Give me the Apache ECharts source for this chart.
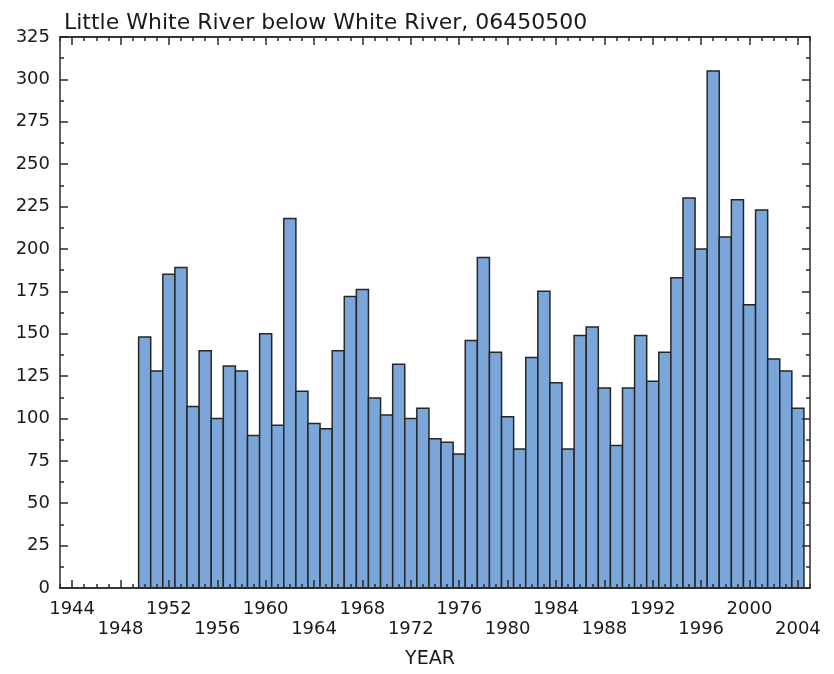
<!DOCTYPE html>
<html>
<head>
<meta charset="utf-8">
<script src="https://cdn.jsdelivr.net/npm/echarts@6/dist/echarts.min.js"></script>
<style>
  html, body { margin: 0; padding: 0; background: #fff; }
  #chart { width: 834px; height: 674px; }
</style>
</head>
<body>
<div id="chart"></div>
<script>
// Annual values, Little White River below White River (06450500)
const years = [
  1950, 1951, 1952, 1953, 1954, 1955, 1956, 1957, 1958, 1959,
  1960, 1961, 1962, 1963, 1964, 1965, 1966, 1967, 1968, 1969,
  1970, 1971, 1972, 1973, 1974, 1975, 1976, 1977, 1978, 1979,
  1980, 1981, 1982, 1983, 1984, 1985, 1986, 1987, 1988, 1989,
  1990, 1991, 1992, 1993, 1994, 1995, 1996, 1997, 1998, 1999,
  2000, 2001, 2002, 2003, 2004
];
const values = [
  148, 128, 185, 189, 107, 140, 100, 131, 128, 90,
  150, 96, 218, 116, 97, 94, 140, 172, 176, 112,
  102, 132, 100, 106, 88, 86, 79, 146, 195, 139,
  101, 82, 136, 175, 121, 82, 149, 154, 118, 84,
  118, 149, 122, 139, 183, 230, 200, 305, 207, 229,
  167, 223, 135, 128, 106
];
// Labelled year ticks (every 4 years)
const majorYears = [1944, 1948, 1952, 1956, 1960, 1964, 1968, 1972, 1976,
  1980, 1984, 1988, 1992, 1996, 2000, 2004];

const yearMin = 1943, yearMax = 2005;
const yMax = 325, yStep = 25;

// one minor tick per year
const allYears = [];
for (let y = yearMin; y <= yearMax; y++) allYears.push(y);

const ink = '#1a1a1a';
const axisColor = '#2b2b2b';
const font = 'DejaVu Sans';
const barFill = '#7ba6da';
const barEdge = '#262626';

function yearAxis(position, ticks, len, withLabels) {
  return {
    type: 'value', gridIndex: 0, position: position, z: 5,
    min: yearMin, max: yearMax,
    axisLine: { show: true, onZero: false, lineStyle: { color: axisColor, width: 1.5 } },
    axisTick: { show: true, inside: true, length: len, customValues: ticks,
      lineStyle: { color: axisColor, width: 1.5 } },
    axisLabel: withLabels ? {
      show: true, customValues: majorYears, color: ink, fontFamily: font, fontSize: 18,
      lineHeight: 20, margin: 11,
      formatter: function (v) { return ((v - 1944) % 8 === 4) ? '\n' + v : String(v); }
    } : { show: false },
    splitLine: { show: false },
    name: withLabels ? 'YEAR' : '',
    nameLocation: 'middle', nameGap: 62,
    nameTextStyle: { color: ink, fontFamily: font, fontSize: 19, padding: [0, 10, 0, 0] }
  };
}

function valueAxis(position, withLabels) {
  return {
    type: 'value', gridIndex: 0, position: position, z: 5,
    min: 0, max: yMax, interval: yStep,
    axisLine: { show: true, lineStyle: { color: axisColor, width: 1.5 } },
    axisTick: { show: true, inside: true, length: 8, lineStyle: { color: axisColor, width: 1.5 } },
    minorTick: { show: true, splitNumber: 2, length: 4, lineStyle: { color: axisColor, width: 1.5 } },
    axisLabel: withLabels ? { show: true, color: ink, fontFamily: font, fontSize: 18,
      margin: 10, padding: [6, 0, 0, 0] } : { show: false },
    splitLine: { show: false },
    minorSplitLine: { show: false }
  };
}

// each bar covers its whole year: from year - 0.5 to year + 0.5
function renderYearBar(params, api) {
  const year = api.value(0);
  const v = api.value(1);
  const topLeft = api.coord([year - 0.5, v]);
  const bottomRight = api.coord([year + 0.5, 0]);
  return {
    type: 'rect',
    shape: {
      x: topLeft[0], y: topLeft[1],
      width: bottomRight[0] - topLeft[0],
      height: bottomRight[1] - topLeft[1]
    },
    style: { fill: barFill, stroke: barEdge, lineWidth: 1.5 }
  };
}

const chart = echarts.init(document.getElementById('chart'), null, { renderer: 'canvas' });
chart.setOption({
  animation: false,
  backgroundColor: '#ffffff',
  title: {
    text: 'Little White River below White River, 06450500',
    left: 59, top: 7,
    textStyle: { color: ink, fontFamily: font, fontSize: 22, fontWeight: 'normal' }
  },
  grid: { left: 60, top: 37, width: 750, height: 551, containLabel: false },
  xAxis: [
    yearAxis('bottom', majorYears, 8, true),
    yearAxis('bottom', allYears, 4, false),
    yearAxis('top', majorYears, 8, false),
    yearAxis('top', allYears, 4, false)
  ],
  yAxis: [
    valueAxis('left', true),
    valueAxis('right', false)
  ],
  series: [{
    type: 'custom',
    xAxisIndex: 0, yAxisIndex: 0,
    renderItem: renderYearBar,
    encode: { x: 0, y: 1 },
    data: years.map(function (y, i) { return [y, values[i]]; }),
    z: 1
  }]
});
</script>
</body>
</html>
